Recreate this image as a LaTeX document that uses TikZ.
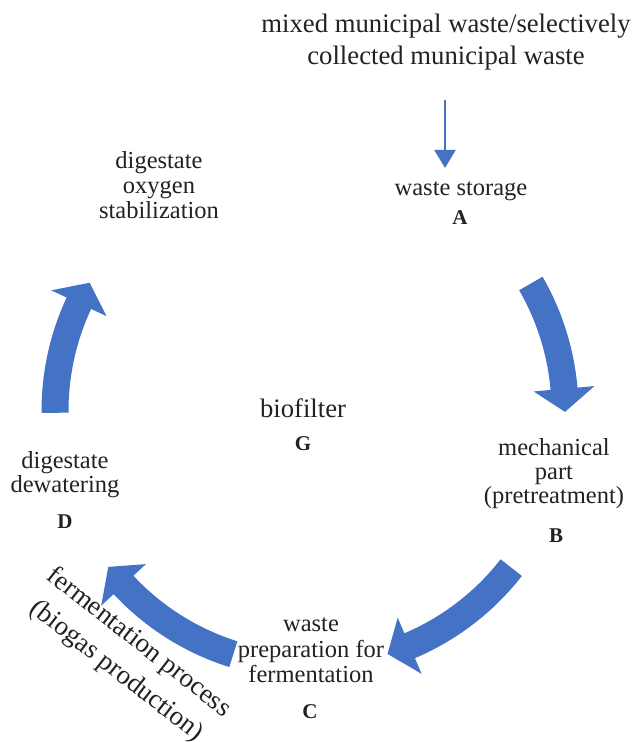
\documentclass[tikz,border=0pt]{standalone}
\usepackage{fontspec}
\setmainfont{Liberation Serif}
\usetikzlibrary{arrows.meta}
\definecolor{cycblue}{HTML}{4472C4}
\definecolor{txtgray}{HTML}{222222}
\newcommand\cycarrow[3]{%
  \begin{scope}[shift={(310,-411)}]
    \fill[cycblue] (#1:268.5) arc[start angle=#1, end angle=#2, radius=268.5]
      -- (#2:285.5) -- (#3:255) -- (#2:224.5) -- (#2:241.5)
      arc[start angle=#2, end angle=#1, radius=241.5] -- cycle;
  \end{scope}}
\begin{document}
\begin{tikzpicture}[x=1bp,y=1bp,
  lbl/.style={align=center, inner sep=0pt, text=txtgray,
    font=\fontsize{24.5bp}{25bp}\selectfont},
  biglbl/.style={align=center, inner sep=0pt, text=txtgray,
    font=\fontsize{26.7bp}{32bp}\selectfont},
  letter/.style={inner sep=0pt, text=txtgray,
    font=\fontsize{21bp}{21bp}\selectfont\bfseries},
  thinarrow/.style={draw=cycblue, line width=2.2bp,
    -{Triangle[width=21bp,length=18bp]}}]
\fill[white] (0,0) rectangle (636,-742);
\useasboundingbox (0,0) rectangle (636,-742);

% texts
\node[biglbl] (title) at (446,-41.8) {mixed municipal waste/selectively\\collected municipal waste};
\node[lbl] (storage) at (461,-191.5) {waste storage};
\node[letter] (A) at (460,-217.2) {A};
\node[lbl, font=\fontsize{24.5bp}{24.3bp}\selectfont] (mech) at (554,-473.6) {mechanical\\part\\(pretreatment)};
\node[letter] (B) at (556,-535.2) {B};
\node[lbl, font=\fontsize{24.5bp}{25.5bp}\selectfont] (prep) at (311,-650.4) {waste\\preparation for\\fermentation};
\node[letter] (C) at (310,-711.2) {C};
\node[lbl, font=\fontsize{24.5bp}{24bp}\selectfont] (dew) at (65,-474.3) {digestate\\dewatering};
\node[letter] (D) at (65,-521.2) {D};
\node[lbl] (stab) at (159,-184.7) {digestate\\oxygen\\stabilization};
\node[biglbl] (bio) at (303,-407.9) {biofilter};
\node[letter] (G) at (303,-443.2) {G};
\node[align=center, inner sep=0pt, text=txtgray, rotate=-38,
  font=\fontsize{27bp}{36bp}\selectfont] (ferm) at (127.5,-657) {fermentation process\\(biogas production)};

% input arrow
\coordinate (arrx) at (445,0);
\draw[thinarrow, shorten <=30.2bp, shorten >=13.8bp] (title.south -| arrx) -- (storage.north -| arrx);

% cycle arrows
\cycarrow{30}{5}{-0.2}
\cycarrow{-37.9}{-67}{-72.3}
\cycarrow{-107.5}{-137}{-142.3}
\cycarrow{180.4}{155}{149.8}
\end{tikzpicture}
\end{document}
